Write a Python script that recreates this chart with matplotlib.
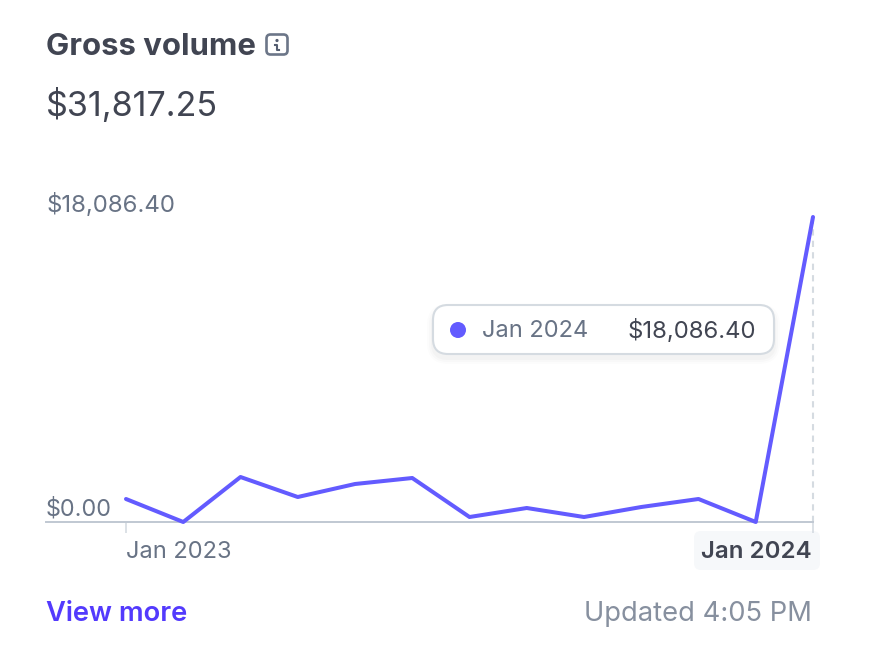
import matplotlib
matplotlib.use("Agg")
import matplotlib.pyplot as plt
from matplotlib.patches import FancyBboxPatch, Circle

months = ["Jan 2023", "Feb 2023", "Mar 2023", "Apr 2023", "May 2023", "Jun 2023", "Jul 2023",
          "Aug 2023", "Sep 2023", "Oct 2023", "Nov 2023", "Dec 2023", "Jan 2024"]
volume = [1364, 0, 2668, 1482, 2253, 2609, 296, 830, 296, 889, 1364, 0, 18086.40]
y_labels = ["$0.00", "$18,086.40"]
y_ticks = [0, 18086.40]

PURPLE = "#635bff"
DARK = "#414552"
GREY = "#687385"
AXIS = "#c0c8d2"

plt.rcParams["font.family"] = ["Inter", "DejaVu Sans"]

W, H = 882, 668
fig = plt.figure(figsize=(W / 100, H / 100), dpi=100)

# page layer in pixel coords, for the card text
page = fig.add_axes([0, 0, 1, 1])
page.set_xlim(0, W)
page.set_ylim(H, 0)
page.axis("off")

# chart axes, spine sits at y=522, top point at y=217
left, right, bottom, top = 46, 813, 522, 217
ax = fig.add_axes([left / W, 1 - bottom / H, (right - left) / W, (bottom - top) / H])
ax.patch.set_alpha(0)
step = (right - 126) / 12
ax.set_xlim(-(126 - left) / step, 12)
ax.set_ylim(0, y_ticks[1])
for s in ["top", "left", "right"]:
    ax.spines[s].set_visible(False)
ax.spines["bottom"].set_color(AXIS)
ax.spines["bottom"].set_linewidth(1.4)
ax.set_yticks([])
ax.set_xticks([0, 12])
ax.set_xticklabels([])
ax.tick_params(axis="x", length=8, width=1.2, color="#d5dbe1")

# dashed guide sits on the axes edge, so no clipping
ax.axvline(12, color="#d5dbe1", lw=1.5, ls=(0, (3, 2.5)), zorder=1, clip_on=False)
ax.plot(range(len(volume)), volume, color=PURPLE, lw=2.9, solid_joinstyle="round",
        solid_capstyle="round", clip_on=False, zorder=3)

# header
page.text(46.5, 47, "Gross volume", fontsize=22.4, fontweight="bold", color=DARK, va="center", ha="left")
page.add_patch(FancyBboxPatch((266.5, 34.5), 21, 20, boxstyle="round,pad=0,rounding_size=4",
                              fc="none", ec="#6c7688", lw=1.9))
page.add_patch(Circle((277, 40.5), 1.6, fc="#545d70", ec="none"))
page.plot([275, 277, 277, 279], [44.5, 44.5, 49.5, 49.5], color="#545d70", lw=1.5)
page.text(46, 105, "$31,817.25", fontsize=24.6, color=DARK, va="center", ha="left")

# y labels
page.text(46, 205, y_labels[1], fontsize=17.3, color=GREY, va="center", ha="left")
page.text(46, 509, y_labels[0], fontsize=16.8, color=GREY, va="center", ha="left")

# x labels
page.text(126, 552, months[0], fontsize=17, color=GREY, va="center", ha="left")
page.add_patch(FancyBboxPatch((694, 531), 126, 39, boxstyle="round,pad=0,rounding_size=7",
                              fc="#f6f8fa", ec="none"))
page.text(812, 552, months[-1], fontsize=17.3, fontweight="semibold", color=DARK, va="center", ha="right")

# tooltip with a soft shadow
for grow, alpha in [(6, 0.012), (4, 0.018), (2, 0.025)]:
    page.add_patch(FancyBboxPatch((433 - grow, 306 - grow + 4), 341 + 2 * grow, 48 + 2 * grow,
                                  boxstyle="round,pad=0,rounding_size=%d" % (15 + grow),
                                  fc="#30313d", ec="none", alpha=alpha))
page.add_patch(FancyBboxPatch((433, 305), 341, 49, boxstyle="round,pad=0,rounding_size=15",
                              fc="white", ec="#d5dbe1", lw=1.5))
page.add_patch(Circle((458, 330), 8, fc=PURPLE, ec="none"))
page.text(482, 331, months[-1], fontsize=17, color=GREY, va="center", ha="left")
page.text(756, 331, "$18,086.40", fontsize=17.2, color=DARK, va="center", ha="right")

# footer
page.text(46.5, 614, "View more", fontsize=19.7, fontweight="semibold", color="#533afd", va="center", ha="left")
page.text(812, 614, "Updated 4:05 PM", fontsize=19.7, color="#87909f", va="center", ha="right")

fig.savefig("out.png", dpi=100)
